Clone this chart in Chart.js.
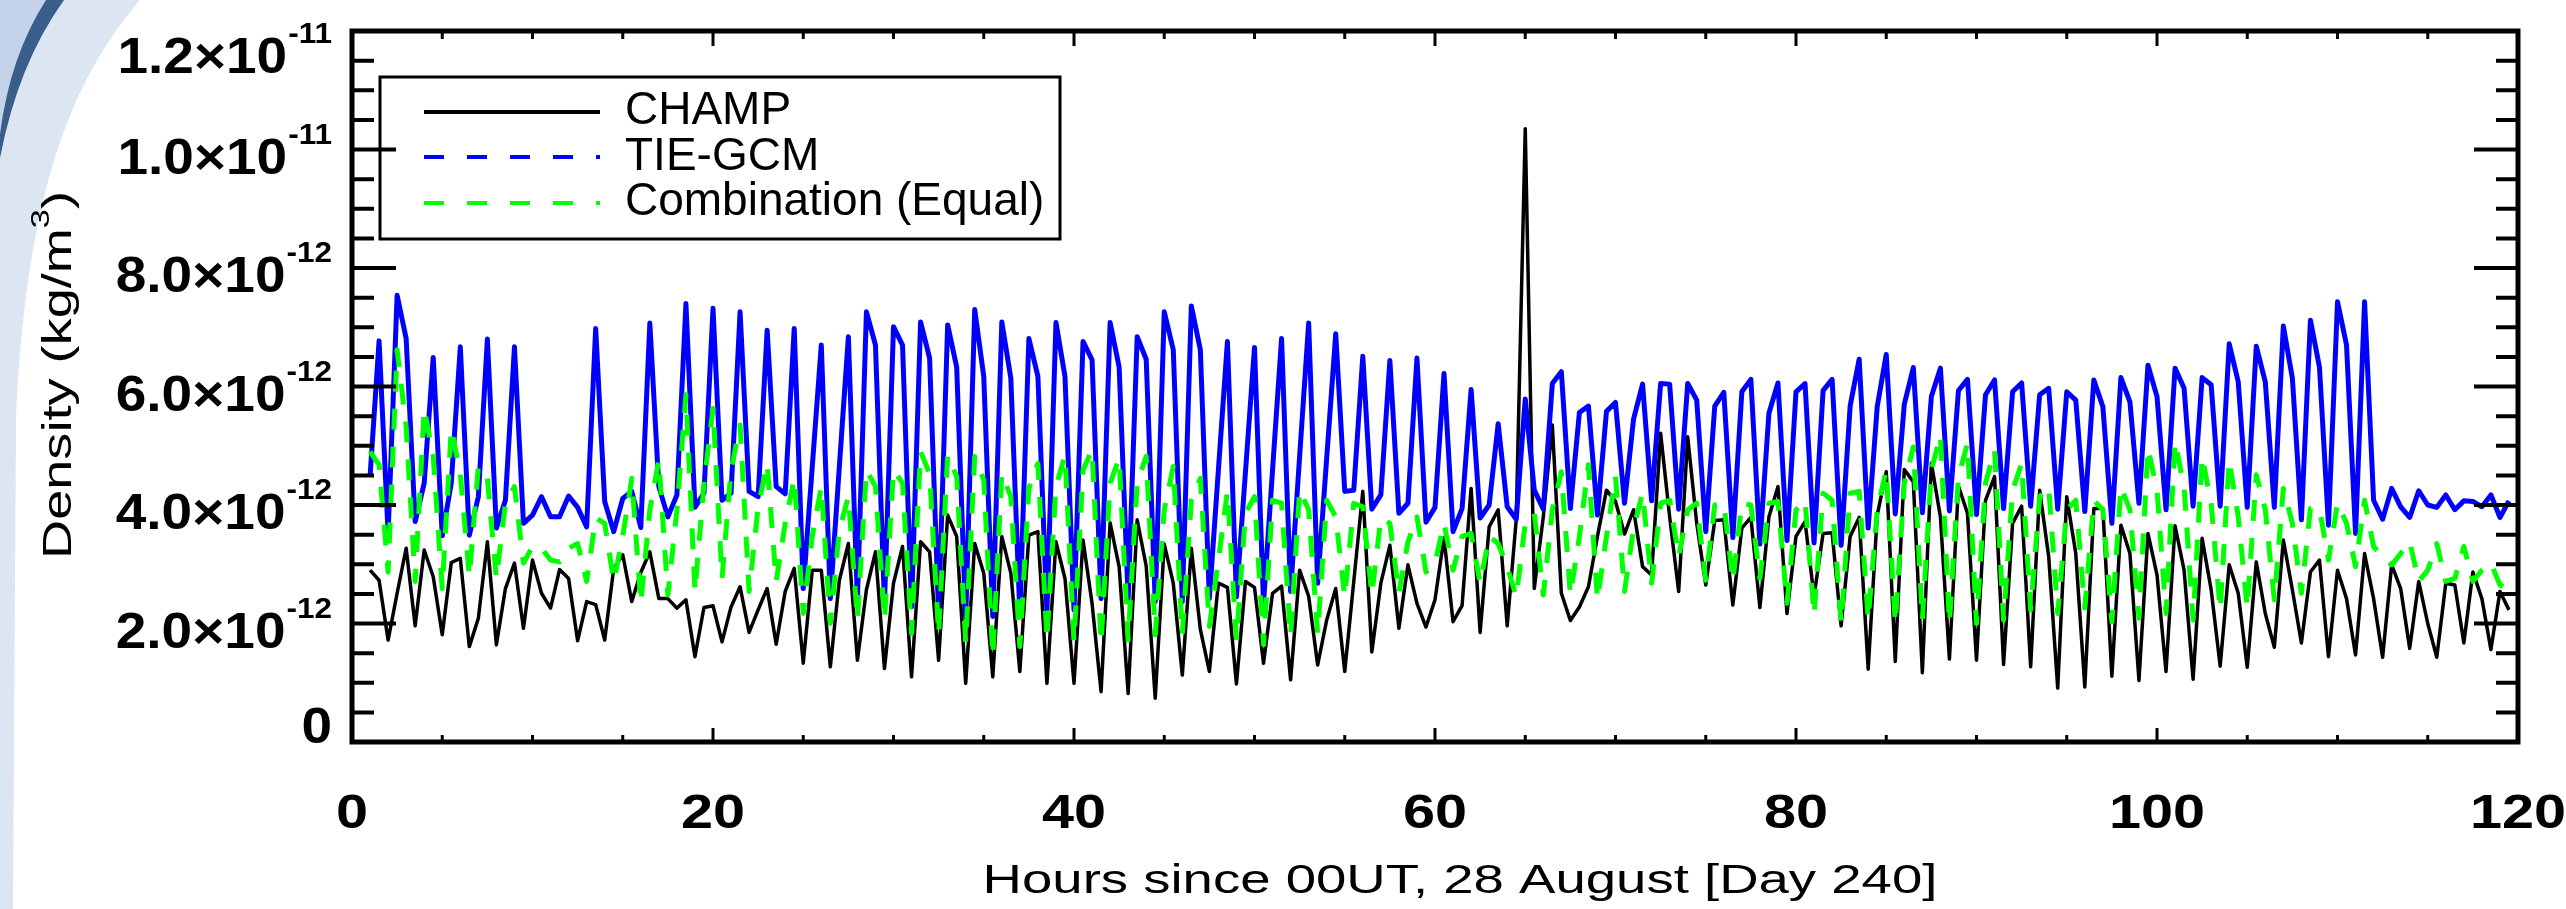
<!DOCTYPE html>
<html><head><meta charset="utf-8">
<script src="https://cdn.jsdelivr.net/npm/chart.js@4/dist/chart.umd.min.js"></script>
<style>html,body{margin:0;padding:0;background:#fff;}canvas{display:block}</style>
</head><body><canvas id="c" width="2566" height="909"></canvas>
<script>
// Sample times (hours since 00UT, 28 August)
const hours = [1,1.5,2,2.5,3,3.5,4,4.5,5,5.5,6,6.5,7,7.5,8,8.5,9,9.5,10,10.5,11,11.5,12,12.5,13,13.5,14,14.5,15,15.5,16,16.5,17,17.5,18,18.5,19,19.5,20,20.5,21,21.5,22,22.5,23,23.5,24,
24.5,25,25.5,26,26.5,27,27.5,28,28.5,29,29.5,30,30.5,31,31.5,32,32.5,33,33.5,34,34.5,35,35.5,36,36.5,37,37.5,38,38.5,39,39.5,40,40.5,41,41.5,42,42.5,43,43.5,44,44.5,45,45.5,46,46.5,47,47.5,48,
48.5,49,49.5,50,50.5,51,51.5,52,52.5,53,53.5,54,54.5,55,55.5,56,56.5,57,57.5,58,58.5,59,59.5,60,60.5,61,61.5,62,62.5,63,63.5,64,64.5,65,65.5,66,66.5,67,67.5,68,68.5,69,69.5,70,70.5,71,71.5,72,
72.5,73,73.5,74,74.5,75,75.5,76,76.5,77,77.5,78,78.5,79,79.5,80,80.5,81,81.5,82,82.5,83,83.5,84,84.5,85,85.5,86,86.5,87,87.5,88,88.5,89,89.5,90,90.5,91,91.5,92,92.5,93,93.5,94,94.5,95,95.5,96,
96.5,97,97.5,98,98.5,99,99.5,100,100.5,101,101.5,102,102.5,103,103.5,104,104.5,105,105.5,106,106.5,107,107.5,108,108.5,109,109.5,110,110.5,111,111.5,112,112.5,113,113.5,114,114.5,115,115.5,116,116.5,117,117.5,118,118.5,119,119.5];

// Densities in units of 1e-12 kg/m^3
const champ = [2.90,2.73,1.72,2.51,3.27,1.96,3.24,2.79,1.81,3.03,3.10,1.61,2.09,3.38,1.64,2.59,3.02,1.92,3.07,2.51,2.26,2.91,2.76,1.71,2.37,2.32,1.72,2.93,3.16,2.37,2.86,3.21,2.42,2.42,2.26,2.40,1.44,2.27,2.30,1.69,2.28,2.62,1.85,2.23,2.59,1.65,2.54,
2.93,1.33,2.90,2.90,1.27,2.73,3.35,1.38,2.57,3.21,1.24,2.68,3.30,1.10,3.38,3.21,1.38,3.83,3.47,0.99,3.35,2.85,1.10,3.47,2.85,1.19,3.49,3.55,0.99,3.38,2.76,0.99,3.41,2.34,0.85,3.70,2.96,0.82,3.75,2.97,0.74,3.34,2.68,1.13,3.27,1.90,1.19,2.68,
2.61,0.98,2.71,2.61,1.33,2.51,2.63,1.05,2.90,2.46,1.30,2.06,2.59,1.19,2.71,4.23,1.52,2.68,3.32,1.92,2.99,2.34,1.94,2.40,3.45,2.03,2.30,4.28,1.85,3.63,3.92,1.96,3.75,10.35,2.59,3.80,5.35,2.51,2.05,2.28,2.62,3.47,4.25,4.06,3.51,3.92,2.96,2.82,
5.21,3.80,2.54,5.15,3.69,2.65,3.74,3.75,2.31,3.61,3.79,2.27,3.80,4.31,2.17,3.47,3.72,2.46,3.52,3.53,1.96,3.47,3.79,1.23,3.83,4.56,1.36,4.60,4.39,1.17,4.71,3.80,1.40,4.32,3.86,1.38,4.08,4.48,1.31,3.69,3.98,1.27,4.25,3.13,0.91,4.14,3.18,0.93,
3.94,3.94,1.11,3.66,3.18,1.04,3.52,2.82,1.19,3.65,2.90,1.06,3.44,2.57,1.28,2.99,2.51,1.26,3.04,2.17,1.60,3.41,2.57,1.67,2.87,3.07,1.44,2.90,2.42,1.47,3.18,2.42,1.43,2.99,2.59,1.58,2.71,2.00,1.43,2.68,2.65,1.67,2.87,2.42,1.56,2.54,2.23];

const tiegcm = [4.48,6.77,3.52,7.54,6.81,3.72,4.37,6.49,3.48,4.37,6.67,3.49,4.14,6.80,3.61,4.08,6.67,3.69,3.83,4.14,3.80,3.80,4.15,3.96,3.63,6.98,4.06,3.55,4.11,4.23,3.62,7.07,4.31,3.80,4.17,7.40,3.96,4.20,7.32,4.08,4.20,7.26,4.23,4.14,6.95,4.31,4.19,
6.98,2.59,4.65,6.70,2.42,4.65,6.84,2.40,7.26,6.70,2.34,7.01,6.70,2.28,7.09,6.48,2.17,7.04,6.33,2.09,7.30,6.17,2.12,7.09,6.14,2.17,6.81,6.17,2.20,7.08,6.17,2.23,6.76,6.45,2.42,7.08,6.33,2.42,6.84,6.46,2.37,7.26,6.62,2.37,7.36,6.62,2.42,4.59,
6.76,2.45,4.56,6.66,2.34,4.59,6.81,2.54,4.82,7.07,2.68,4.79,6.89,4.23,4.25,6.51,3.93,4.17,6.44,3.86,4.03,6.48,3.71,3.96,6.22,3.55,3.94,5.95,3.78,4.00,5.37,3.97,3.76,5.79,4.25,3.93,6.05,6.25,3.94,5.56,5.67,3.83,5.58,5.73,4.03,5.45,6.04,4.07,
6.05,6.04,3.93,6.05,5.77,3.55,5.67,5.90,3.45,5.91,6.12,3.34,5.55,6.06,3.40,5.91,6.05,3.36,5.93,6.12,3.32,5.67,6.46,3.61,5.66,6.54,3.85,5.70,6.32,3.87,5.83,6.31,3.90,5.93,6.12,3.84,5.86,6.11,3.94,5.91,6.06,3.98,5.86,5.97,3.93,5.91,5.77,3.89,
6.11,5.66,3.69,6.15,5.74,4.03,6.36,5.83,3.92,6.31,5.97,3.98,6.15,6.03,3.98,6.72,6.08,3.96,6.68,6.08,3.96,7.02,6.14,3.75,7.12,6.33,3.66,7.43,6.70,3.52,7.43,4.08,3.76,4.28,3.97,3.79,4.24,4.00,3.96,4.17,3.92,4.07,4.06,3.97,4.17,3.79,4.07];

const combination = [4.90,4.68,2.87,6.62,5.32,2.71,5.63,4.82,2.59,5.29,4.53,2.79,4.65,4.45,2.76,4.03,4.31,3.02,3.30,3.27,3.07,3.04,3.27,3.35,2.71,3.78,3.69,2.71,3.47,4.45,2.34,3.92,4.76,2.48,3.92,5.86,2.54,4.37,5.63,2.76,4.59,5.35,2.54,3.97,4.70,2.71,3.69,
4.45,2.17,3.47,4.31,2.00,3.58,4.14,2.06,4.59,4.31,2.06,4.59,4.37,1.83,4.90,4.53,1.81,4.84,4.48,1.67,4.82,4.42,1.44,4.53,4.14,1.61,4.28,4.70,1.72,4.31,4.84,1.69,4.59,4.93,1.67,4.37,4.79,1.72,4.37,4.82,1.81,3.92,4.65,1.81,4.08,4.45,1.95,3.07,
4.23,1.72,3.86,4.14,1.64,4.08,4.03,1.78,4.25,3.92,1.83,4.08,3.80,2.45,4.03,3.97,2.48,3.78,3.69,2.51,3.38,3.80,2.87,3.02,3.69,2.90,3.47,3.52,2.68,3.47,3.35,2.96,2.45,3.69,3.86,2.48,3.92,4.56,2.48,3.47,4.68,2.40,3.47,4.48,2.54,3.61,4.20,2.68,
4.03,4.08,3.13,3.92,4.03,2.73,4.00,4.03,2.71,4.03,4.00,2.76,4.03,4.06,2.34,3.92,4.08,2.14,4.20,4.08,2.00,4.20,4.23,2.06,3.92,4.59,2.00,4.37,4.98,2.06,4.59,5.18,2.00,4.48,5.04,2.00,4.37,4.93,2.06,4.25,4.70,2.23,4.14,4.31,2.17,3.92,4.08,2.26,
4.08,3.92,2.03,4.31,3.92,2.09,4.96,4.25,2.17,5.07,4.31,2.06,4.82,4.03,2.23,4.76,3.80,2.26,4.51,3.92,2.40,4.28,3.69,2.51,3.94,3.94,3.07,4.03,3.69,2.96,4.08,3.30,3.13,2.99,3.18,3.38,2.71,2.90,3.35,2.71,2.76,3.30,2.71,2.90,3.02,2.65,2.57];

const UNIT = 1e-12;
const seriesNames = ['CHAMP', 'TIE-GCM', 'Combination (Equal)'];
const seriesColors = ['#000000', '#0000ff', '#00ff00'];
const xTickValues = [0, 20, 40, 60, 80, 100, 120];
const xTickLabels = ['0', '20', '40', '60', '80', '100', '120'];
const yTickValues = [0, 2e-12, 4e-12, 6e-12, 8e-12, 1.0e-11, 1.2e-11];
const yTickMantissa = ['0', '2.0\u00d710', '4.0\u00d710', '6.0\u00d710', '8.0\u00d710', '1.0\u00d710', '1.2\u00d710'];
const yTickExponent = ['', '-12', '-12', '-12', '-12', '-11', '-11'];
const xTitle = 'Hours since 00UT, 28 August [Day 240]';
const yTitleParts = ['Density (kg/m', '3', ')'];

const FONT = "'Liberation Sans', Arial, Helvetica, sans-serif";

const decor = {
  id: 'decor',
  beforeDraw(chart) {
    const ctx = chart.ctx;
    ctx.save();
    ctx.fillStyle = '#ffffff';
    ctx.fillRect(0, 0, chart.width, chart.height);
    ctx.fillStyle = '#dce5f2';
    ctx.beginPath();
    ctx.moveTo(0, 0); ctx.lineTo(140, 0);
    ctx.bezierCurveTo(72, 80, 26, 190, 16, 420);
    ctx.lineTo(13, 909); ctx.lineTo(0, 909); ctx.closePath(); ctx.fill();
    ctx.fillStyle = '#c4d3ea';
    ctx.beginPath();
    ctx.moveTo(0, 0); ctx.lineTo(64, 0); ctx.quadraticCurveTo(18, 62, 0, 156); ctx.closePath(); ctx.fill();
    ctx.fillStyle = '#3a5e8c';
    ctx.beginPath();
    ctx.moveTo(46, 0); ctx.lineTo(64, 0); ctx.quadraticCurveTo(18, 64, 0, 158);
    ctx.lineTo(0, 134); ctx.quadraticCurveTo(10, 56, 46, 0); ctx.closePath(); ctx.fill();
    ctx.restore();
  }
};

// draw text horizontally stretched by sx; align: 'left' | 'center' | 'right' relative to x
function drawStretched(ctx, parts, x, y, sx, align) {
  let total = 0;
  parts.forEach(p => { ctx.font = p.font; p.w = ctx.measureText(p.text).width; total += p.w; });
  let start = x;
  if (align === 'center') start = x - total * sx / 2;
  else if (align === 'right') start = x - total * sx;
  ctx.save();
  ctx.translate(start, y);
  ctx.scale(sx, 1);
  ctx.textAlign = 'left';
  let xx = 0;
  parts.forEach(p => { ctx.font = p.font; ctx.fillText(p.text, xx, p.dy || 0); xx += p.w; });
  ctx.restore();
  return total * sx;
}

const overlay = {
  id: 'overlay',
  afterDraw(chart) {
    const ctx = chart.ctx;
    const a = chart.chartArea;
    const xs = chart.scales.x, ys = chart.scales.y;
    ctx.save();
    ctx.strokeStyle = '#000'; ctx.fillStyle = '#000'; ctx.lineCap = 'butt';
    ctx.textBaseline = 'alphabetic';
    // y ticks (left & right), minor every 0.5e-12
    ctx.lineWidth = 4;
    for (let k = 0; k <= 24; k++) {
      const py = ys.getPixelForValue(k * 0.5 * UNIT);
      const len = (k % 4 === 0) ? 44 : 22;
      ctx.beginPath();
      ctx.moveTo(a.left, py); ctx.lineTo(a.left + len, py);
      ctx.moveTo(a.right, py); ctx.lineTo(a.right - len, py);
      ctx.stroke();
    }
    // x ticks (bottom & top), minor every 5 h
    ctx.lineWidth = 3;
    for (let h = 0; h <= 120; h += 5) {
      const px = xs.getPixelForValue(h);
      const major = h % 20 === 0;
      ctx.beginPath();
      ctx.moveTo(px, a.bottom); ctx.lineTo(px, a.bottom - (major ? 14 : 7));
      ctx.moveTo(px, a.top); ctx.lineTo(px, a.top + (major ? 15 : 8));
      ctx.stroke();
    }
    // frame
    ctx.lineWidth = 5;
    ctx.strokeRect(a.left, a.top, a.right - a.left, a.bottom - a.top);

    // x tick labels
    xTickValues.forEach((v, i) =>
      drawStretched(ctx, [{text: xTickLabels[i], font: 'bold 48px ' + FONT}], xs.getPixelForValue(v), 828, 1.2, 'center'));

    // y tick labels with exponent
    const xR = 332;
    yTickValues.forEach((v, i) => {
      const py = ys.getPixelForValue(v);
      const bb = Math.min(Math.max(py + 24, a.top + 42), a.bottom + 1);
      let right = xR;
      if (yTickExponent[i]) {
        const we = drawStretched(ctx, [{text: yTickExponent[i], font: 'bold 30px ' + FONT}], xR, bb - 30, 1.05, 'right');
        right = xR - we - 1;
      }
      drawStretched(ctx, [{text: yTickMantissa[i], font: 'bold 50px ' + FONT}], right, bb, 1.1, 'right');
    });

    // x title
    drawStretched(ctx, [{text: xTitle, font: '41px ' + FONT}], 1460, 893, 1.33, 'center');

    // y title (rotated)
    ctx.save();
    ctx.translate(71, 375);
    ctx.rotate(-Math.PI / 2);
    drawStretched(ctx, [
      {text: yTitleParts[0], font: '41px ' + FONT},
      {text: yTitleParts[1], font: '26px ' + FONT, dy: -22},
      {text: yTitleParts[2], font: '41px ' + FONT}
    ], 0, 0, 1.32, 'center');
    ctx.restore();

    // legend
    ctx.lineWidth = 3;
    ctx.strokeRect(380, 77, 680, 162);
    const rows = [112, 157, 203];
    const bases = [124, 170, 215];
    const dashes = [[], [20, 23], [20, 23]];
    for (let i = 0; i < 3; i++) {
      ctx.save();
      ctx.strokeStyle = seriesColors[i];
      ctx.lineWidth = 4;
      ctx.setLineDash(dashes[i]);
      ctx.beginPath(); ctx.moveTo(424, rows[i]); ctx.lineTo(600, rows[i]); ctx.stroke();
      ctx.restore();
      ctx.font = '46px ' + FONT;
      ctx.textAlign = 'left';
      ctx.fillText(seriesNames[i], 625, bases[i]);
    }
    ctx.restore();
  }
};

const toPts = arr => arr.map((v, i) => ({x: hours[i], y: v * UNIT}));

new Chart(document.getElementById('c'), {
  type: 'line',
  data: {
    datasets: [
      {label: seriesNames[2], data: toPts(combination), borderColor: seriesColors[2], borderWidth: 5, borderDash: [21, 17], pointRadius: 0, order: 0},
      {label: seriesNames[1], data: toPts(tiegcm), borderColor: seriesColors[1], borderWidth: 5, pointRadius: 0, order: 1},
      {label: seriesNames[0], data: toPts(champ), borderColor: seriesColors[0], borderWidth: 3.5, pointRadius: 0, order: 2}
    ]
  },
  options: {
    responsive: false,
    animation: false,
    devicePixelRatio: 1,
    events: [],
    layout: {padding: {left: 352, right: 48, top: 31, bottom: 167}},
    plugins: {legend: {display: false}, tooltip: {enabled: false}},
    elements: {line: {tension: 0, borderJoinStyle: 'round', fill: false}},
    scales: {
      x: {type: 'linear', min: 0, max: 120, display: false},
      y: {type: 'linear', min: 0, max: 12 * UNIT, display: false}
    }
  },
  plugins: [decor, overlay]
});
</script>
</body></html>
